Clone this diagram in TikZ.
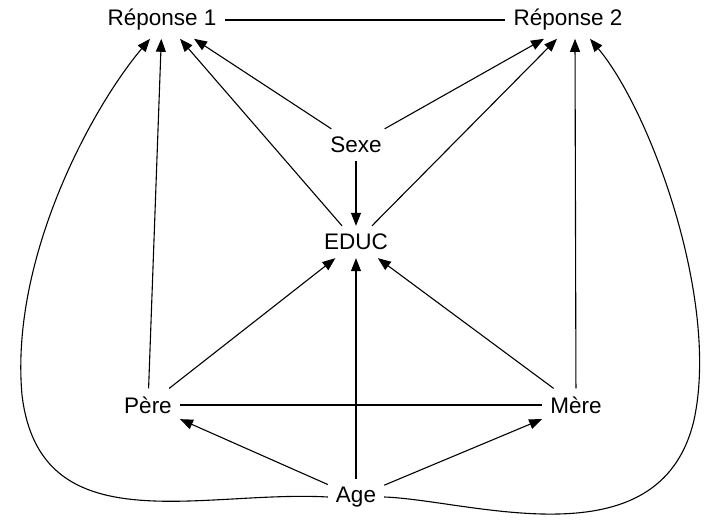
\documentclass[tikz,border=0pt]{standalone}
\usepackage{fontspec}
\setmainfont{Liberation Sans}
\usetikzlibrary{arrows.meta}

\begin{document}
\begin{tikzpicture}[x=1pt,y=-1pt,var/.style={font=\fontsize{22.5}{26}\selectfont,inner sep=8pt},arrow/.style={-{Triangle[length=13pt,width=10pt]},line width=1.1pt},link/.style={line width=1.1pt}]
\useasboundingbox (0,0) rectangle (712,526);
\node[var] (rep1) at (162,20){Réponse 1};
\node[var] (rep2) at (568,20){Réponse 2};
\node[var] (sexe) at (356,145){Sexe};
\node[var] (educ) at (356,242){EDUC};
\node[var] (pere) at (148,405){Père};
\node[var] (mere) at (576,405){Mère};
\node[var] (age) at (356,497){Age};
\draw[link] (rep1) -- (rep2);\draw[link] (pere) -- (mere);
\draw[arrow] (sexe) -- (educ);
\draw[arrow] (sexe) -- ([xshift=32pt]rep1.south);\draw[arrow] (sexe) -- ([xshift=-24pt]rep2.south);
\draw[arrow] (educ) -- ([xshift=18pt]rep1.south);\draw[arrow] (educ) -- ([xshift=-11pt]rep2.south);
\draw[arrow] (pere) -- (rep1);\draw[arrow] (mere) -- ([xshift=7pt]rep2.south);
\draw[arrow] (pere) -- (educ);\draw[arrow] (age) -- (educ);\draw[arrow] (mere) -- (educ);
\draw[arrow] (age) -- (pere);\draw[arrow] (age) -- (mere);
\draw[arrow] (age.west) .. controls (200,490) and (40,545) .. (22,395) .. controls (10,260) and (90,110) .. ([xshift=-12pt]rep1.south);
\draw[arrow] (age.east) .. controls (470,500) and (660,565) .. (694,420) .. controls (720,300) and (650,110) .. ([xshift=22pt]rep2.south);
\end{tikzpicture}
\end{document}
